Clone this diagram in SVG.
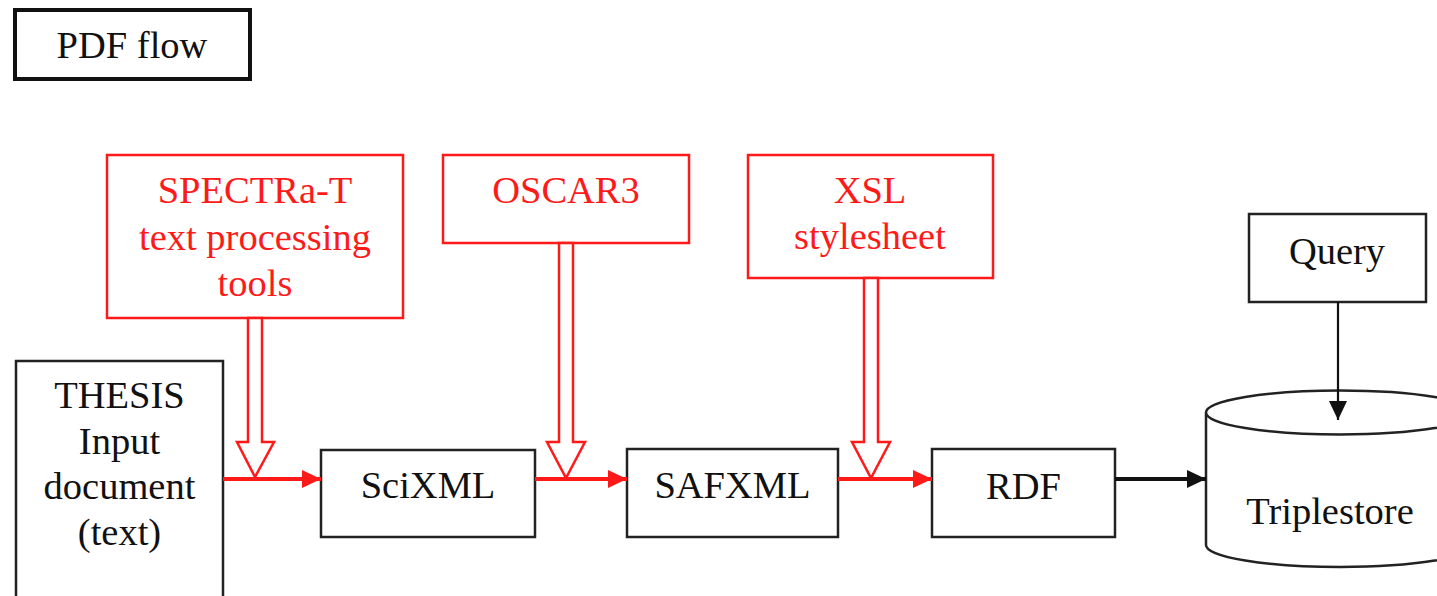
<svg xmlns="http://www.w3.org/2000/svg" width="1437" height="596" viewBox="0 0 1437 596">
<defs>
<style>
.box{fill:#fff;stroke:#222;stroke-width:2.5}
.rbox{fill:#fff;stroke:#ff1a1a;stroke-width:2.5}
.t{font-family:"Liberation Serif","Times New Roman",serif;font-size:38.5px;text-anchor:middle;fill:#111}
.rt{font-family:"Liberation Serif","Times New Roman",serif;font-size:38.5px;text-anchor:middle;fill:#ff1a1a}
.hollow{fill:#fff;stroke:#ff1a1a;stroke-width:2.5;stroke-linejoin:miter}
.rline{stroke:#ff1a1a;stroke-width:4;fill:none}
.bline{stroke:#111;stroke-width:4;fill:none}
.qline{stroke:#111;stroke-width:2.2;fill:none}
</style>
<marker id="rhead" markerUnits="userSpaceOnUse" markerWidth="20" markerHeight="18" refX="19" refY="9" orient="auto">
<path d="M0,0 L19,9 L0,18 Z" fill="#ff1a1a"/>
</marker>
<marker id="bhead" markerUnits="userSpaceOnUse" markerWidth="20" markerHeight="18" refX="19" refY="9" orient="auto">
<path d="M0,0 L19,9 L0,18 Z" fill="#111"/>
</marker>
</defs>
<rect width="1437" height="596" fill="#fff"/>

<g id="pdfflow">
<rect x="15" y="10" width="235" height="69" fill="#fff" stroke="#111" stroke-width="4"/>
<text class="t" x="132" y="58">PDF flow</text>
</g>

<g id="spectra">
<rect class="rbox" x="107" y="155" width="296" height="163"/>
<text class="rt" x="255" y="203">SPECTRa-T</text>
<text class="rt" x="255" y="250">text processing</text>
<text class="rt" x="255" y="296">tools</text>
</g>

<g id="oscar3">
<rect class="rbox" x="443" y="155" width="246" height="88"/>
<text class="rt" x="566" y="203">OSCAR3</text>
</g>

<g id="xsl">
<rect class="rbox" x="748" y="155" width="245" height="123"/>
<text class="rt" x="870" y="203">XSL</text>
<text class="rt" x="870" y="249">stylesheet</text>
</g>

<g id="query">
<rect class="box" x="1249" y="214" width="177" height="88"/>
<text class="t" x="1337" y="264">Query</text>
</g>

<g id="thesis">
<rect class="box" x="16" y="361" width="207" height="250"/>
<text class="t" x="119.5" y="408">THESIS</text>
<text class="t" x="119.5" y="454">Input</text>
<text class="t" x="119.5" y="499">document</text>
<text class="t" x="119.5" y="545">(text)</text>
</g>

<g id="scixml">
<rect class="box" x="321" y="450" width="214" height="87"/>
<text class="t" x="428" y="498">SciXML</text>
</g>

<g id="safxml">
<rect class="box" x="627" y="449" width="211" height="88"/>
<text class="t" x="732.5" y="498">SAFXML</text>
</g>

<g id="rdf">
<rect class="box" x="932" y="449" width="183" height="88"/>
<text class="t" x="1023.5" y="499">RDF</text>
</g>

<g id="triplestore">
<path d="M1206,412.5 L1206,545 A134,22 0 0 0 1474,545 L1474,412.5" fill="#fff" stroke="#222" stroke-width="2.5"/>
<ellipse cx="1340" cy="412.5" rx="134" ry="22" fill="#fff" stroke="#222" stroke-width="2.5"/>
<text class="t" x="1330" y="524">Triplestore</text>
</g>

<g id="connectors">
<polygon class="hollow" points="248,318 262,318 262,442 274,442 255,477 237,442 248,442"/>
<polygon class="hollow" points="559,243 573,243 573,442 585,442 566,478 547,442 559,442"/>
<polygon class="hollow" points="864,278 878,278 878,442 890,442 871,478 852,442 864,442"/>
<line class="rline" x1="223" y1="479" x2="321" y2="479" marker-end="url(#rhead)"/>
<line class="rline" x1="535" y1="479" x2="627" y2="479" marker-end="url(#rhead)"/>
<line class="rline" x1="838" y1="479" x2="932" y2="479" marker-end="url(#rhead)"/>
<line class="bline" x1="1115" y1="479" x2="1206" y2="479" marker-end="url(#bhead)"/>
<line class="qline" x1="1338" y1="302" x2="1338" y2="420" marker-end="url(#bhead)"/>
</g>
</svg>
